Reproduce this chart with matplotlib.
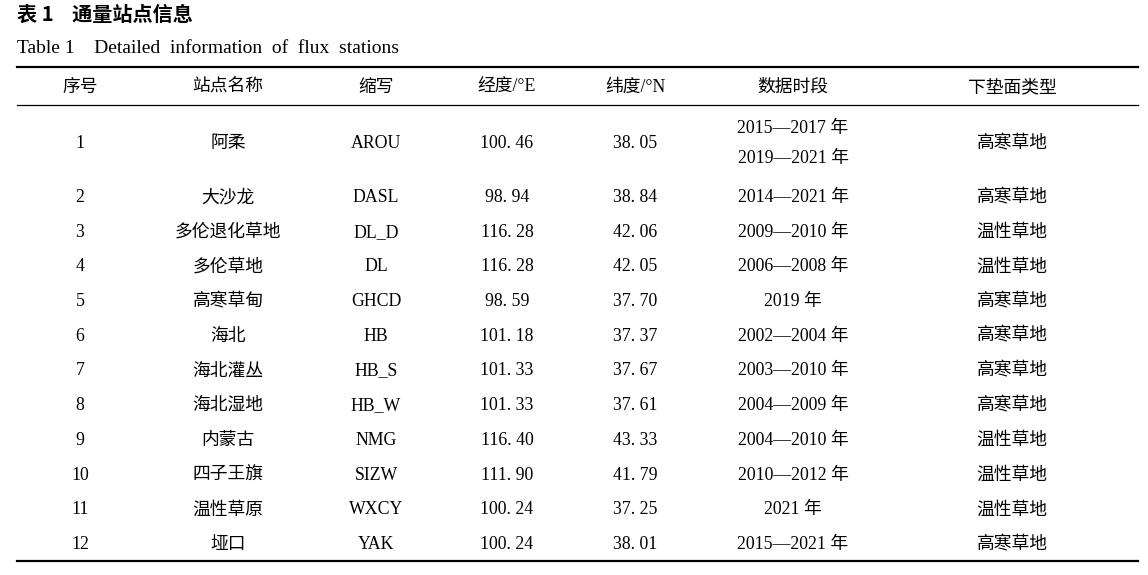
import matplotlib.pyplot as plt

plt.rcParams['font.family'] = ['Liberation Serif', 'Noto Sans CJK SC']

headers = ['序号', '站点名称', '缩写', '经度/°E', '纬度/°N', '数据时段', '下垫面类型']
ids = ['1', '2', '3', '4', '5', '6', '7', '8', '9', '10', '11', '12']
names = ['阿柔', '大沙龙', '多伦退化草地', '多伦草地', '高寒草甸', '海北',
         '海北灌丛', '海北湿地', '内蒙古', '四子王旗', '温性草原', '垭口']
abbrs = ['AROU', 'DASL', 'DL_D', 'DL', 'GHCD', 'HB', 'HB_S', 'HB_W',
         'NMG', 'SIZW', 'WXCY', 'YAK']
lons = ['100. 46', '98. 94', '116. 28', '116. 28', '98. 59', '101. 18',
        '101. 33', '101. 33', '116. 40', '111. 90', '100. 24', '100. 24']
lats = ['38. 05', '38. 84', '42. 06', '42. 05', '37. 70', '37. 37',
        '37. 67', '37. 61', '43. 33', '41. 79', '37. 25', '38. 01']
periods = [['2015—2017 年', '2019—2021 年'], ['2014—2021 年'], ['2009—2010 年'],
           ['2006—2008 年'], ['2019 年'], ['2002—2004 年'], ['2003—2010 年'],
           ['2004—2009 年'], ['2004—2010 年'], ['2010—2012 年'], ['2021 年'],
           ['2015—2021 年']]
surfaces = ['高寒草地', '高寒草地', '温性草地', '温性草地', '高寒草地', '高寒草地',
            '高寒草地', '高寒草地', '温性草地', '温性草地', '温性草地', '高寒草地']

col_x = [80, 228, 376, 507, 635, 793, 1012]

fig = plt.figure(figsize=(11.48, 5.75), dpi=100)
ax = fig.add_axes([0, 0, 1, 1])
ax.set_xlim(0, 1148)
ax.set_ylim(575, 0)
ax.axis('off')

ax.text(17, 21, '表 1    通量站点信息', fontsize=14.5, fontweight='bold',
        ha='left', va='baseline', family=['Noto Sans CJK SC'])
ax.text(17, 53, 'Table 1    Detailed  information  of  flux  stations', fontsize=14,
        ha='left', va='baseline')

x0, x1 = 17, 1138
ax.plot([x0, x1], [67, 67], color='black', lw=1.6)
ax.plot([x0, x1], [105, 105], color='black', lw=0.9)
ax.plot([x0, x1], [561, 561], color='black', lw=1.6)

fs = 12.8
off = 6  # baseline offset from row centre


def cell(x, y, s):
    ax.text(x, y + off, s, fontsize=fs, ha='center', va='baseline')


for x, h in zip(col_x, headers):
    cell(x, 86, h)

step = 34.7
y = 142
for i in range(len(ids)):
    if i == 1:
        y = 196
    elif i > 1:
        y += step
    row = [ids[i], names[i], abbrs[i], lons[i], lats[i], None, surfaces[i]]
    for x, v in zip(col_x, row):
        if v is not None:
            cell(x, y, v)
    p = periods[i]
    if len(p) == 2:
        cell(col_x[5], y - 15, p[0])
        cell(col_x[5], y + 15, p[1])
    else:
        cell(col_x[5], y, p[0])

fig.savefig('out.png', dpi=100)
